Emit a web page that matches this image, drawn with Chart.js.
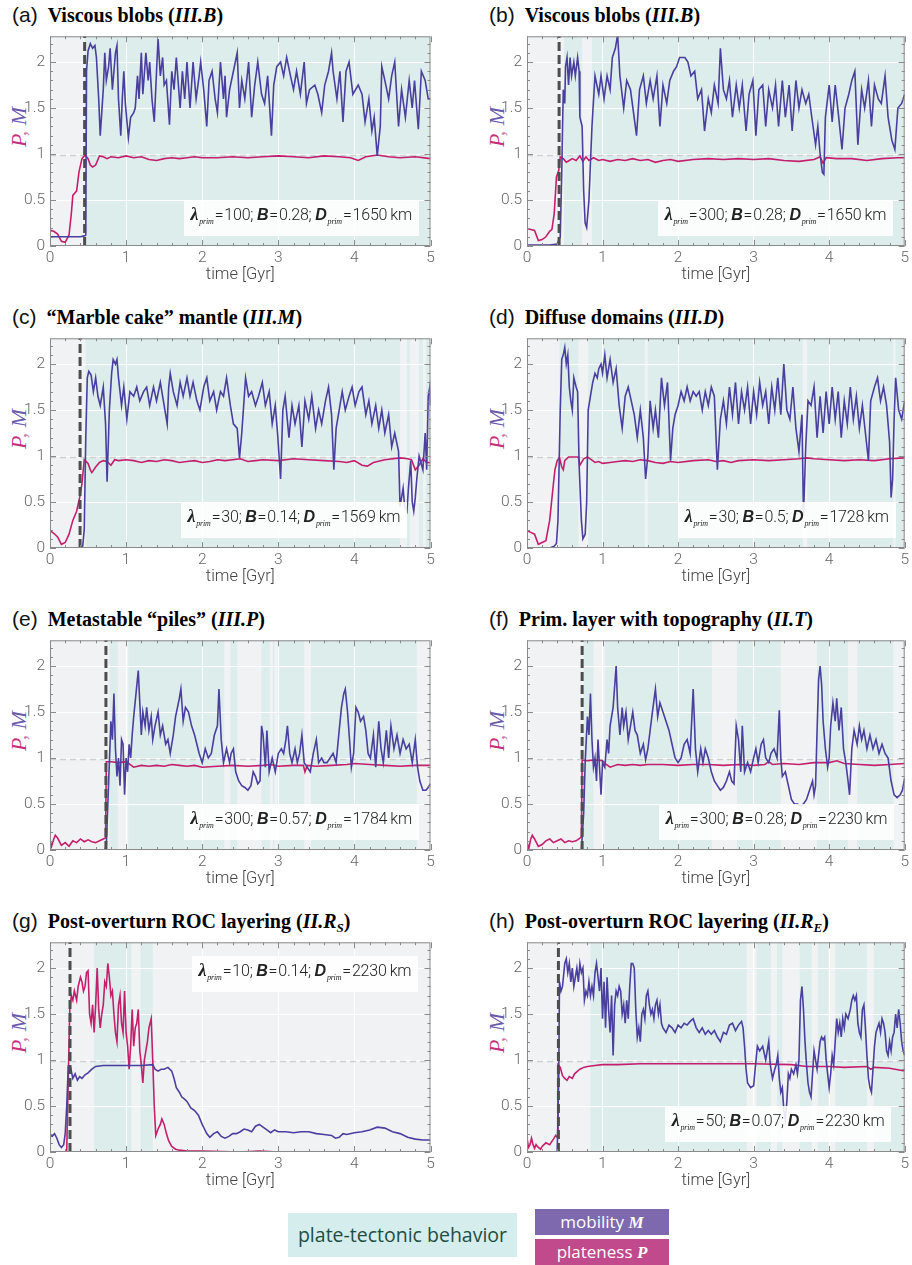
<!DOCTYPE html>
<html>
<head>
<meta charset="utf-8">
<script src="https://cdn.jsdelivr.net/npm/chart.js@4.4.1/dist/chart.umd.min.js"></script>
<style>
  body { margin:0; background:#fff; }
  #fig { position:relative; width:912px; height:1265px; overflow:hidden; }
  canvas { position:absolute; }
  .ptitle { position:absolute; white-space:nowrap; line-height:26px; }
  .ptitle .lab { font-family:"Liberation Sans", Arial, sans-serif; font-size:21px; color:#111; margin-right:10px; }
  .ptitle .tt { font-family:"Liberation Serif", "Times New Roman", serif; font-weight:bold; font-size:20px; color:#000; }
  .ptitle sub { font-size:13px; vertical-align:-4px; }
  .ylab { position:absolute; transform:translate(-50%,-50%) rotate(-90deg); white-space:nowrap;
          font-family:"Liberation Serif", serif; font-style:italic; font-size:22px; }
  .ylab .p { color:#c2307a; } .ylab .c { color:#c97aa4; } .ylab .m { color:#6a5aad; }
  .abox { position:absolute; background:rgba(255,255,255,0.88); padding:4px 7px 4px 7px; white-space:nowrap;
          font-family:Roboto, "Liberation Sans", sans-serif; font-weight:300; font-size:16px; color:#222; line-height:20px; letter-spacing:-0.2px; }
  .abox b { font-family:"Liberation Sans", sans-serif; font-style:italic; font-weight:bold; }
  .abox .lam { font-family:"Liberation Serif", serif; font-size:18px; }
  .abox .eq { margin:0 1px; }
  .abox sub { font-family:"Liberation Serif", serif; font-style:italic; font-size:8px; vertical-align:-4px; margin-left:1px; }
  .leg { position:absolute; text-align:center; font-family:"Open Sans", "Noto Sans", sans-serif; }
  .leg i { font-family:"Liberation Serif", serif; font-weight:bold; }
</style>
</head>
<body>
<div id="fig">
  <div class="leg" style="left:288px;top:1213px;width:229px;height:44px;line-height:44px;background:#d5eded;color:#1f4d42;font-size:19.5px;">plate-tectonic behavior</div>
  <div class="leg" style="left:535px;top:1209px;width:134px;height:26px;line-height:26px;background:#7e69ae;color:#fff;font-size:17px;">mobility <i>M</i></div>
  <div class="leg" style="left:535px;top:1239px;width:134px;height:26px;line-height:26px;background:#c04a8b;color:#fff;font-size:17px;">plateness <i>P</i></div>
</div>
<script>
// time axis ticks and P/M axis ticks
var timeTicks = [0, 1, 2, 3, 4, 5];
var pmTicks = [0, 0.5, 1, 1.5, 2];
var refLevel = 0.985;

// overturn time of each run (dashed line), null = none shown
var overturnTimes = [0.455, 0.425, 0.395, null, 0.735, 0.73, 0.263, 0.416];

// run parameters shown in the boxes
var lambdaPrim = [100, 300, 30, 30, 300, 300, 10, 50];
var buoyancy = ['0.28', '0.28', '0.14', '0.5', '0.57', '0.28', '0.14', '0.07'];
var dPrim = [1650, 1650, 1569, 1728, 1784, 2230, 2230, 2230];

// plate-tectonic intervals [start, end] in Gyr
var platesA = [[0.46,5]];
var platesB = [[0.49,0.73],[0.86,5]];
var platesC = [[0.47,4.6],[4.69,4.73],[4.85,4.9],[4.94,5]];
var platesD = [[0.43,0.68],[0.81,1.56],[1.6,3.65],[3.71,4.85],[4.88,5]];
var platesE = [[0.78,0.89],[1.03,2.29],[2.37,2.46],[2.78,2.89],[2.93,2.95],[2.99,3.34],[3.43,4.82]];
var platesF = [[0.75,0.88],[1.03,2.45],[2.78,3.36],[3.84,4.25],[4.37,4.85]];
var platesG = [[0.58,1.07],[1.19,1.35]];
var platesH = [[0.84,2.91],[3.04,3.23],[3.31,3.38],[3.61,3.77],[3.85,3.99],[4.08,4.5],[4.59,5]];

// mobility M, [time, value]
var mobilityA = [[0,0.1],[0.2,0.1],[0.4,0.1],[0.45,0.11],[0.47,0.12],[0.48,1.9],[0.5,2.12],[0.53,2.2],[0.56,2.15],[0.59,2.18],[0.61,2.05],[0.64,1.6],[0.66,1.2],[0.68,1.45],[0.7,1.7],[0.72,2.1],[0.74,1.8],[0.77,1.95],[0.79,2.15],[0.82,1.7],[0.84,1.9],[0.86,2.1],[0.88,2.18],[0.9,1.6],[0.93,1.2],[0.95,1.6],[0.97,1.9],[0.99,1.55],[1.03,1.18],[1.06,1.4],[1.1,1.45],[1.12,1.5],[1.15,1.85],[1.17,1.6],[1.2,2.1],[1.22,1.65],[1.26,2.1],[1.29,1.8],[1.31,2.0],[1.34,1.6],[1.37,1.35],[1.4,1.9],[1.42,2.25],[1.45,1.85],[1.48,2.05],[1.5,1.75],[1.53,1.8],[1.57,1.32],[1.6,1.9],[1.63,1.7],[1.66,2.05],[1.71,1.5],[1.74,1.9],[1.77,1.6],[1.8,2.0],[1.84,1.5],[1.88,2.0],[1.92,1.6],[1.96,1.85],[1.98,2.0],[2.02,1.7],[2.06,1.3],[2.09,1.8],[2.13,1.9],[2.17,1.6],[2.2,1.45],[2.24,2.0],[2.28,1.6],[2.3,1.85],[2.32,1.4],[2.36,1.7],[2.41,1.9],[2.46,2.1],[2.49,1.5],[2.52,1.8],[2.56,1.6],[2.61,2.0],[2.65,1.4],[2.69,1.75],[2.73,2.0],[2.78,1.65],[2.82,1.55],[2.86,1.85],[2.91,1.2],[2.94,1.75],[2.98,1.95],[3.03,2.0],[3.07,1.85],[3.11,2.05],[3.16,1.85],[3.2,1.7],[3.24,1.9],[3.29,1.65],[3.34,2.0],[3.37,1.55],[3.41,1.7],[3.48,1.75],[3.52,1.65],[3.57,1.45],[3.61,1.75],[3.66,1.9],[3.7,2.1],[3.72,1.9],[3.77,1.6],[3.81,1.9],[3.85,1.35],[3.89,1.9],[3.93,2.0],[3.98,1.65],[4.05,1.75],[4.1,1.65],[4.14,1.35],[4.19,1.6],[4.23,1.25],[4.26,1.4],[4.3,0.98],[4.34,1.3],[4.36,1.95],[4.4,1.8],[4.45,1.6],[4.49,1.85],[4.53,2.0],[4.58,1.3],[4.62,1.7],[4.67,1.4],[4.72,1.8],[4.76,1.5],[4.79,1.8],[4.84,1.27],[4.88,1.9],[4.93,1.8],[4.97,1.6],[5,1.6]];
var mobilityB = [[0,0.01],[0.3,0.01],[0.4,0.02],[0.44,0.1],[0.46,0.8],[0.48,1.7],[0.5,1.55],[0.51,1.95],[0.53,2.05],[0.55,1.75],[0.57,2.05],[0.59,1.85],[0.62,2.0],[0.64,1.85],[0.67,2.05],[0.69,1.9],[0.7,1.4],[0.73,1.3],[0.75,0.6],[0.77,0.25],[0.79,0.2],[0.82,0.5],[0.86,1.3],[0.9,1.85],[0.95,1.65],[0.98,1.85],[1.02,1.6],[1.06,1.85],[1.1,1.7],[1.13,2.05],[1.17,2.15],[1.2,2.3],[1.23,1.85],[1.28,1.5],[1.32,1.8],[1.37,1.7],[1.41,1.45],[1.45,1.2],[1.49,1.7],[1.54,1.85],[1.58,1.55],[1.63,1.8],[1.67,1.6],[1.72,1.85],[1.76,1.3],[1.8,1.75],[1.85,1.55],[1.89,1.8],[1.94,1.9],[1.98,1.95],[2.02,2.05],[2.09,2.05],[2.13,2.0],[2.17,1.85],[2.22,1.9],[2.26,1.6],[2.31,1.7],[2.35,1.25],[2.4,1.6],[2.44,1.45],[2.48,1.75],[2.53,1.55],[2.56,2.15],[2.6,1.7],[2.64,1.6],[2.68,1.8],[2.72,1.4],[2.77,1.75],[2.81,1.5],[2.85,1.75],[2.9,1.25],[2.94,1.65],[2.99,1.8],[3.03,1.2],[3.07,1.7],[3.12,1.75],[3.16,1.3],[3.2,1.7],[3.25,1.5],[3.29,1.75],[3.33,1.3],[3.38,1.8],[3.42,1.4],[3.47,1.75],[3.51,1.25],[3.56,1.8],[3.6,1.5],[3.64,1.7],[3.69,1.55],[3.73,1.65],[3.77,1.4],[3.82,1.1],[3.85,1.3],[3.88,1.0],[3.91,0.8],[3.93,0.78],[3.95,1.4],[4.0,1.75],[4.04,1.35],[4.08,1.75],[4.12,1.45],[4.17,1.05],[4.21,1.5],[4.26,1.65],[4.3,1.8],[4.34,1.9],[4.38,1.1],[4.43,1.7],[4.47,1.5],[4.52,1.8],[4.56,1.3],[4.6,1.75],[4.65,1.6],[4.69,1.55],[4.74,1.85],[4.78,1.4],[4.83,1.15],[4.87,1.05],[4.91,1.5],[4.96,1.55],[5,1.65]];
var mobilityC = [[0,0],[0.3,0],[0.4,0.0],[0.43,0.02],[0.45,0.2],[0.47,1.2],[0.49,1.85],[0.51,1.92],[0.54,1.88],[0.57,1.7],[0.6,1.85],[0.63,1.65],[0.66,1.55],[0.7,1.75],[0.73,1.35],[0.75,0.72],[0.78,1.5],[0.81,1.9],[0.83,2.05],[0.86,2.0],[0.88,2.05],[0.9,1.85],[0.94,1.55],[0.97,1.75],[1.01,1.4],[1.05,1.7],[1.1,1.65],[1.14,1.75],[1.18,1.6],[1.23,1.7],[1.27,1.75],[1.31,1.55],[1.36,1.75],[1.4,1.6],[1.45,1.8],[1.49,1.6],[1.54,1.35],[1.56,1.75],[1.58,1.9],[1.62,1.7],[1.67,1.55],[1.71,1.8],[1.75,1.65],[1.8,1.85],[1.84,1.65],[1.88,1.8],[1.93,1.6],[1.97,1.5],[2.02,1.75],[2.06,1.85],[2.1,1.6],[2.15,1.7],[2.19,1.5],[2.24,1.7],[2.28,1.65],[2.32,1.85],[2.37,1.55],[2.41,1.35],[2.46,1.3],[2.49,0.98],[2.52,1.25],[2.57,1.85],[2.61,1.65],[2.65,1.7],[2.7,1.55],[2.74,1.65],[2.79,1.8],[2.83,1.55],[2.88,1.7],[2.92,1.35],[2.96,1.55],[2.99,1.25],[3.03,0.75],[3.06,1.5],[3.09,1.65],[3.14,1.2],[3.18,1.55],[3.22,1.35],[3.27,1.55],[3.31,1.1],[3.35,1.6],[3.4,1.4],[3.44,1.65],[3.49,1.3],[3.53,1.5],[3.57,1.35],[3.62,1.6],[3.66,1.75],[3.7,1.45],[3.73,0.85],[3.76,1.3],[3.79,1.45],[3.84,1.7],[3.88,1.5],[3.93,1.65],[3.97,1.75],[4.01,1.55],[4.06,1.7],[4.1,1.75],[4.15,1.45],[4.19,1.6],[4.23,1.35],[4.28,1.55],[4.32,1.3],[4.36,1.5],[4.4,1.25],[4.45,1.45],[4.49,1.1],[4.53,1.25],[4.58,1.05],[4.6,0.45],[4.64,0.65],[4.66,0.45],[4.69,0.4],[4.71,0.65],[4.74,0.95],[4.76,0.5],[4.78,0.4],[4.8,0.55],[4.82,0.75],[4.85,1.0],[4.9,0.85],[4.93,1.25],[4.95,0.85],[4.97,1.65],[4.99,1.75],[5,1.55]];
var mobilityD = [[0,0],[0.3,0],[0.36,0.02],[0.39,0.05],[0.41,0.3],[0.44,1.5],[0.46,2.05],[0.48,2.1],[0.5,2.18],[0.52,2.0],[0.54,2.1],[0.56,1.75],[0.58,1.6],[0.6,1.5],[0.62,1.85],[0.65,1.75],[0.67,1.7],[0.69,0.9],[0.72,0.3],[0.74,0.1],[0.77,0.15],[0.79,0.5],[0.81,1.5],[0.84,1.65],[0.87,1.8],[0.9,1.9],[0.93,1.85],[0.95,1.95],[0.98,2.0],[1.0,1.9],[1.03,2.1],[1.06,1.85],[1.1,2.05],[1.14,1.8],[1.18,1.95],[1.22,1.55],[1.26,1.3],[1.3,1.65],[1.34,1.75],[1.38,1.6],[1.42,1.45],[1.46,1.2],[1.5,1.5],[1.54,1.2],[1.57,0.75],[1.6,1.0],[1.63,1.6],[1.67,1.3],[1.7,1.5],[1.74,1.2],[1.78,1.85],[1.82,1.55],[1.86,1.8],[1.9,0.95],[1.93,1.3],[1.96,1.45],[2.0,1.55],[2.04,1.7],[2.08,1.6],[2.12,1.75],[2.16,1.6],[2.2,1.7],[2.24,1.65],[2.28,1.7],[2.32,1.5],[2.36,1.7],[2.4,1.55],[2.44,1.75],[2.48,1.65],[2.52,0.85],[2.56,1.4],[2.6,1.6],[2.64,1.35],[2.68,1.75],[2.72,1.45],[2.76,1.8],[2.8,1.35],[2.84,1.7],[2.88,1.5],[2.92,1.75],[2.96,1.35],[3.0,1.7],[3.04,1.45],[3.08,1.8],[3.12,1.55],[3.16,1.7],[3.2,1.35],[3.24,1.75],[3.28,1.5],[3.32,1.85],[3.36,1.45],[3.4,2.0],[3.44,1.5],[3.48,1.4],[3.52,1.75],[3.56,1.3],[3.6,1.05],[3.64,1.45],[3.66,0.35],[3.69,1.1],[3.72,1.6],[3.76,1.55],[3.8,1.75],[3.84,1.2],[3.88,1.65],[3.92,1.25],[3.96,1.7],[4.0,1.35],[4.04,1.75],[4.08,1.4],[4.12,1.7],[4.16,1.2],[4.2,1.6],[4.24,1.35],[4.28,1.75],[4.32,1.4],[4.36,1.65],[4.4,1.3],[4.44,1.55],[4.48,1.25],[4.52,0.95],[4.55,1.6],[4.6,1.75],[4.64,1.85],[4.68,1.6],[4.72,1.75],[4.76,1.55],[4.8,1.15],[4.82,0.55],[4.84,0.75],[4.86,1.4],[4.88,1.85],[4.92,1.5],[4.96,1.4],[5,1.6]];
var mobilityE = [[0,0],[0.5,0],[0.72,0.0],[0.74,0.05],[0.76,0.5],[0.78,0.95],[0.8,1.4],[0.82,1.2],[0.84,1.7],[0.86,1.1],[0.88,0.8],[0.9,1.0],[0.92,0.7],[0.94,1.2],[0.96,1.15],[0.98,0.6],[1.0,1.0],[1.02,0.85],[1.04,1.15],[1.06,1.0],[1.08,1.25],[1.1,1.45],[1.13,1.7],[1.16,1.95],[1.18,1.6],[1.2,1.25],[1.22,1.5],[1.25,1.35],[1.27,1.55],[1.3,1.3],[1.33,1.45],[1.35,1.2],[1.38,1.35],[1.42,1.5],[1.45,1.25],[1.48,1.35],[1.52,1.15],[1.55,1.2],[1.58,1.05],[1.62,1.25],[1.65,1.45],[1.7,1.65],[1.72,1.75],[1.75,1.4],[1.78,1.55],[1.82,1.5],[1.86,1.35],[1.9,1.25],[1.93,1.15],[1.96,1.05],[2.0,0.95],[2.04,1.1],[2.08,1.0],[2.12,1.05],[2.16,1.25],[2.2,1.35],[2.22,1.75],[2.25,1.2],[2.28,0.95],[2.32,1.1],[2.36,0.95],[2.38,1.05],[2.41,1.1],[2.44,0.85],[2.48,0.75],[2.52,0.7],[2.56,0.68],[2.6,0.65],[2.64,0.7],[2.67,0.85],[2.7,0.8],[2.73,0.72],[2.76,0.75],[2.78,1.35],[2.8,1.25],[2.83,0.9],[2.85,1.3],[2.88,0.85],[2.92,1.0],[2.96,0.85],[3.0,1.05],[3.04,1.1],[3.07,1.05],[3.1,1.2],[3.12,1.35],[3.15,1.05],[3.18,0.95],[3.22,1.1],[3.25,0.95],[3.28,1.05],[3.31,1.25],[3.34,0.95],[3.38,0.9],[3.42,0.85],[3.46,1.05],[3.5,1.2],[3.53,0.95],[3.57,1.0],[3.6,0.95],[3.64,0.95],[3.68,1.0],[3.72,1.05],[3.76,0.95],[3.8,1.3],[3.83,1.55],[3.86,1.7],[3.88,1.75],[3.91,1.5],[3.94,1.15],[3.96,0.9],[3.99,1.05],[4.02,1.55],[4.05,1.5],[4.08,1.4],[4.12,1.45],[4.15,1.3],[4.18,1.05],[4.21,1.0],[4.25,1.25],[4.28,0.9],[4.32,1.4],[4.35,1.1],[4.38,0.95],[4.42,1.3],[4.45,1.0],[4.48,1.35],[4.52,1.1],[4.56,1.25],[4.6,1.05],[4.64,1.2],[4.68,1.1],[4.72,1.15],[4.76,0.95],[4.8,1.2],[4.83,0.9],[4.86,0.75],[4.9,0.65],[4.94,0.65],[4.97,0.68],[5,0.72]];
var mobilityF = [[0,0],[0.5,0],[0.72,0],[0.75,0.4],[0.77,0.95],[0.8,1.45],[0.82,1.25],[0.84,1.7],[0.86,1.2],[0.88,0.9],[0.9,1.0],[0.92,0.75],[0.94,1.2],[0.96,0.9],[0.98,0.6],[1.0,0.95],[1.03,0.9],[1.06,1.2],[1.08,1.05],[1.1,1.35],[1.14,1.55],[1.18,2.0],[1.2,1.55],[1.23,1.25],[1.26,1.55],[1.28,1.35],[1.31,1.5],[1.34,1.2],[1.37,1.35],[1.4,1.5],[1.43,1.3],[1.46,1.25],[1.5,1.05],[1.54,1.15],[1.57,0.98],[1.6,1.1],[1.63,1.3],[1.66,1.5],[1.7,1.75],[1.73,1.45],[1.76,1.6],[1.8,1.5],[1.84,1.4],[1.88,1.3],[1.92,1.15],[1.96,1.0],[2.0,0.95],[2.04,1.0],[2.08,1.15],[2.12,1.2],[2.16,1.05],[2.2,1.75],[2.23,1.1],[2.26,0.85],[2.3,1.1],[2.33,0.95],[2.36,1.1],[2.4,1.0],[2.44,0.85],[2.48,0.75],[2.52,0.7],[2.56,0.65],[2.6,0.68],[2.64,0.75],[2.68,0.85],[2.71,0.75],[2.74,0.72],[2.77,1.35],[2.8,1.2],[2.83,0.85],[2.85,1.35],[2.88,0.85],[2.92,0.95],[2.96,0.85],[3.0,1.0],[3.03,1.1],[3.06,0.95],[3.1,1.15],[3.13,1.2],[3.16,1.0],[3.2,0.95],[3.23,1.05],[3.27,1.1],[3.31,1.0],[3.34,1.52],[3.36,1.0],[3.38,0.8],[3.42,0.85],[3.46,0.7],[3.5,0.55],[3.54,0.5],[3.58,0.5],[3.62,0.48],[3.66,0.5],[3.7,0.55],[3.74,0.65],[3.78,0.75],[3.8,0.6],[3.82,0.7],[3.84,1.3],[3.86,1.85],[3.88,2.0],[3.9,1.8],[3.92,1.4],[3.95,1.1],[3.98,0.9],[4.0,1.0],[4.02,1.35],[4.05,1.6],[4.08,1.4],[4.1,1.65],[4.13,1.3],[4.16,1.55],[4.19,1.1],[4.22,0.95],[4.25,0.75],[4.27,0.6],[4.3,1.1],[4.33,1.3],[4.37,1.15],[4.4,1.35],[4.43,1.2],[4.46,1.3],[4.5,1.1],[4.54,1.25],[4.58,1.1],[4.62,1.2],[4.66,1.05],[4.7,1.15],[4.74,1.05],[4.78,1.0],[4.82,0.75],[4.86,0.6],[4.9,0.57],[4.94,0.6],[4.97,0.65],[5,0.78]];
var mobilityG = [[0,0.18],[0.03,0.17],[0.06,0.2],[0.09,0.15],[0.12,0.08],[0.15,0.05],[0.18,0.08],[0.2,0.2],[0.22,0.5],[0.24,0.93],[0.27,0.92],[0.3,0.8],[0.33,0.85],[0.36,0.78],[0.39,0.82],[0.42,0.8],[0.46,0.84],[0.5,0.86],[0.55,0.9],[0.6,0.93],[0.7,0.94],[0.8,0.94],[1.0,0.94],[1.2,0.94],[1.35,0.95],[1.38,0.9],[1.42,0.88],[1.46,0.9],[1.5,0.9],[1.55,0.92],[1.6,0.88],[1.63,0.8],[1.66,0.7],[1.7,0.65],[1.73,0.6],[1.76,0.58],[1.8,0.55],[1.85,0.48],[1.9,0.45],[1.95,0.4],[2.0,0.3],[2.03,0.25],[2.06,0.2],[2.1,0.16],[2.15,0.2],[2.2,0.22],[2.25,0.17],[2.3,0.15],[2.35,0.17],[2.4,0.2],[2.45,0.2],[2.5,0.22],[2.55,0.25],[2.6,0.24],[2.65,0.22],[2.7,0.28],[2.75,0.3],[2.8,0.27],[2.85,0.24],[2.9,0.21],[2.95,0.24],[3.0,0.22],[3.1,0.22],[3.2,0.21],[3.3,0.22],[3.4,0.22],[3.5,0.2],[3.6,0.19],[3.7,0.18],[3.75,0.15],[3.8,0.16],[3.85,0.2],[3.9,0.19],[4.0,0.21],[4.1,0.22],[4.2,0.24],[4.3,0.27],[4.4,0.26],[4.5,0.22],[4.6,0.2],[4.7,0.16],[4.8,0.14],[4.9,0.13],[5,0.13]];
var mobilityH = [[0,0],[0.4,0],[0.42,0.8],[0.43,1.85],[0.45,1.75],[0.47,1.8],[0.5,2.05],[0.52,2.1],[0.54,1.95],[0.56,2.05],[0.58,1.85],[0.6,2.0],[0.62,1.8],[0.64,1.9],[0.66,2.0],[0.68,1.85],[0.7,2.05],[0.72,1.95],[0.74,2.0],[0.76,1.65],[0.78,1.75],[0.8,1.7],[0.82,1.85],[0.84,1.7],[0.86,1.8],[0.88,1.7],[0.9,1.95],[0.92,2.05],[0.94,1.9],[0.96,1.75],[0.98,2.0],[1.0,1.45],[1.02,1.85],[1.04,1.35],[1.06,1.9],[1.08,1.55],[1.1,1.3],[1.12,1.7],[1.14,1.05],[1.16,1.6],[1.18,1.75],[1.2,1.7],[1.22,1.8],[1.24,1.75],[1.26,1.5],[1.28,1.6],[1.3,1.4],[1.32,1.65],[1.34,1.45],[1.36,1.8],[1.38,2.05],[1.4,2.05],[1.42,2.0],[1.44,1.55],[1.46,1.25],[1.48,1.35],[1.5,1.2],[1.52,1.5],[1.54,1.55],[1.56,1.45],[1.58,1.7],[1.6,1.75],[1.62,1.6],[1.64,1.5],[1.66,1.55],[1.68,1.45],[1.7,1.6],[1.72,1.65],[1.74,1.5],[1.76,1.6],[1.78,1.4],[1.8,1.35],[1.84,1.3],[1.88,1.38],[1.92,1.35],[1.96,1.3],[2.0,1.38],[2.04,1.35],[2.08,1.4],[2.12,1.38],[2.16,1.42],[2.2,1.45],[2.24,1.35],[2.28,1.3],[2.32,1.35],[2.36,1.28],[2.4,1.32],[2.44,1.28],[2.48,1.32],[2.52,1.25],[2.56,1.2],[2.6,1.3],[2.64,1.28],[2.68,1.38],[2.72,1.4],[2.76,1.32],[2.8,1.38],[2.84,1.42],[2.86,1.35],[2.88,1.15],[2.9,0.9],[2.92,0.75],[2.96,0.7],[3.0,0.72],[3.02,0.9],[3.05,1.15],[3.08,1.1],[3.12,1.15],[3.16,1.0],[3.2,1.2],[3.22,0.95],[3.25,0.8],[3.28,0.9],[3.3,0.95],[3.32,1.05],[3.34,0.8],[3.36,0.65],[3.38,0.7],[3.4,0.45],[3.42,0.35],[3.44,0.55],[3.46,0.85],[3.48,0.8],[3.5,0.9],[3.53,0.85],[3.56,0.95],[3.58,0.85],[3.6,1.0],[3.62,1.65],[3.64,1.8],[3.66,1.55],[3.68,1.2],[3.7,0.95],[3.72,0.75],[3.74,0.65],[3.76,0.6],[3.78,0.85],[3.8,1.1],[3.82,1.0],[3.84,0.9],[3.86,1.05],[3.88,1.2],[3.9,1.25],[3.92,1.22],[3.94,1.25],[3.96,1.0],[3.98,0.85],[4.0,0.7],[4.02,0.85],[4.04,1.05],[4.06,0.95],[4.08,1.2],[4.1,1.45],[4.12,1.3],[4.14,1.4],[4.16,1.25],[4.18,1.45],[4.2,1.35],[4.22,1.5],[4.25,1.45],[4.28,1.55],[4.3,1.65],[4.32,1.7],[4.34,1.65],[4.36,1.7],[4.38,1.4],[4.4,1.3],[4.42,1.25],[4.44,1.55],[4.46,1.6],[4.48,1.35],[4.5,1.05],[4.52,0.8],[4.54,0.7],[4.56,0.65],[4.58,0.9],[4.6,1.15],[4.62,1.3],[4.64,1.35],[4.66,1.4],[4.68,1.3],[4.7,1.45],[4.72,1.4],[4.74,1.3],[4.76,1.1],[4.78,1.05],[4.8,1.2],[4.82,1.1],[4.84,1.25],[4.86,1.3],[4.88,1.5],[4.9,1.35],[4.92,1.55],[4.94,1.4],[4.96,1.2],[4.98,1.1],[5,1.05]];

// plateness P, [time, value]
var platenessA = [[0,0.17],[0.05,0.16],[0.1,0.13],[0.15,0.05],[0.2,0.04],[0.25,0.12],[0.28,0.35],[0.3,0.55],[0.33,0.58],[0.35,0.6],[0.38,0.8],[0.42,0.95],[0.46,0.99],[0.5,0.95],[0.53,0.88],[0.56,0.86],[0.6,0.88],[0.65,0.98],[0.7,0.97],[0.75,0.95],[0.8,0.97],[0.9,0.96],[1.0,0.98],[1.1,0.96],[1.2,0.97],[1.3,0.94],[1.4,0.93],[1.5,0.95],[1.6,0.96],[1.7,0.95],[1.8,0.96],[1.9,0.97],[2.0,0.96],[2.2,0.96],[2.4,0.97],[2.6,0.96],[2.8,0.97],[3.0,0.98],[3.2,0.97],[3.4,0.96],[3.6,0.98],[3.8,0.97],[3.95,0.96],[4.05,0.93],[4.15,0.97],[4.3,0.99],[4.45,0.97],[4.6,0.96],[4.8,0.97],[5,0.95]];
var platenessB = [[0,0.19],[0.05,0.18],[0.1,0.17],[0.15,0.06],[0.2,0.07],[0.25,0.1],[0.3,0.16],[0.33,0.18],[0.36,0.35],[0.39,0.75],[0.42,0.82],[0.44,0.97],[0.48,0.95],[0.52,0.91],[0.56,0.93],[0.6,0.95],[0.65,0.93],[0.7,0.98],[0.74,0.92],[0.78,0.97],[0.82,0.93],[0.88,0.96],[0.95,0.93],[1.0,0.94],[1.1,0.92],[1.2,0.94],[1.3,0.93],[1.4,0.95],[1.5,0.93],[1.6,0.94],[1.7,0.91],[1.8,0.93],[1.9,0.94],[2.0,0.92],[2.2,0.94],[2.4,0.95],[2.6,0.94],[2.8,0.95],[3.0,0.94],[3.2,0.95],[3.4,0.93],[3.6,0.92],[3.8,0.94],[3.88,0.97],[3.92,0.9],[3.96,0.96],[4.1,0.95],[4.3,0.95],[4.5,0.93],[4.7,0.95],[4.9,0.96],[5,0.96]];
var platenessC = [[0,0.19],[0.05,0.16],[0.1,0.12],[0.15,0.04],[0.2,0.06],[0.25,0.15],[0.3,0.3],[0.35,0.4],[0.39,0.55],[0.42,0.7],[0.45,0.96],[0.5,0.92],[0.53,0.85],[0.55,0.82],[0.6,0.88],[0.65,0.93],[0.7,0.95],[0.75,0.94],[0.8,0.9],[0.85,0.96],[0.9,0.95],[1.0,0.96],[1.1,0.95],[1.2,0.93],[1.3,0.95],[1.4,0.94],[1.5,0.96],[1.6,0.95],[1.7,0.93],[1.8,0.94],[1.9,0.95],[2.0,0.93],[2.1,0.94],[2.2,0.96],[2.3,0.95],[2.4,0.96],[2.5,0.97],[2.6,0.94],[2.7,0.95],[2.8,0.96],[3.0,0.95],[3.2,0.97],[3.4,0.96],[3.6,0.95],[3.8,0.94],[3.9,0.93],[4.0,0.95],[4.1,0.9],[4.17,0.89],[4.25,0.93],[4.4,0.96],[4.6,0.98],[4.7,0.97],[4.75,0.96],[4.8,0.85],[4.85,0.9],[4.9,0.97],[4.95,0.93],[5,0.93]];
var platenessD = [[0,0.19],[0.05,0.17],[0.1,0.15],[0.15,0.04],[0.2,0.06],[0.25,0.08],[0.3,0.3],[0.35,0.7],[0.37,0.85],[0.4,0.95],[0.43,0.98],[0.46,0.88],[0.48,0.85],[0.5,0.95],[0.55,0.99],[0.6,0.99],[0.68,0.99],[0.7,0.9],[0.75,0.97],[0.8,0.99],[0.85,0.96],[0.9,0.93],[0.95,0.94],[1.0,0.92],[1.1,0.93],[1.2,0.94],[1.3,0.95],[1.4,0.94],[1.5,0.96],[1.6,0.95],[1.7,0.93],[1.8,0.92],[1.9,0.94],[2.0,0.93],[2.2,0.95],[2.4,0.96],[2.5,0.94],[2.6,0.95],[2.7,0.93],[2.8,0.95],[3.0,0.96],[3.2,0.95],[3.4,0.96],[3.6,0.97],[3.7,0.98],[3.8,0.97],[4.0,0.96],[4.2,0.95],[4.4,0.96],[4.6,0.95],[4.8,0.97],[5,0.98]];
var platenessE = [[0,0.1],[0.02,0.04],[0.05,0.12],[0.07,0.16],[0.1,0.13],[0.15,0.05],[0.2,0.08],[0.25,0.04],[0.3,0.1],[0.35,0.08],[0.4,0.12],[0.45,0.09],[0.5,0.11],[0.55,0.09],[0.6,0.08],[0.65,0.1],[0.7,0.12],[0.73,0.13],[0.74,0.96],[0.8,0.96],[0.9,0.95],[1.0,0.96],[1.05,0.93],[1.1,0.9],[1.2,0.92],[1.3,0.91],[1.4,0.92],[1.5,0.91],[1.6,0.93],[1.7,0.92],[1.8,0.91],[1.9,0.92],[2.0,0.9],[2.2,0.91],[2.4,0.92],[2.6,0.91],[2.8,0.92],[2.9,0.93],[3.0,0.91],[3.2,0.92],[3.33,0.92],[3.35,0.85],[3.38,0.92],[3.5,0.91],[3.7,0.92],[3.9,0.93],[4.0,0.94],[4.2,0.93],[4.4,0.92],[4.6,0.91],[4.8,0.92],[5,0.92]];
var platenessF = [[0,0.1],[0.02,0.0],[0.05,0.12],[0.07,0.16],[0.1,0.12],[0.15,0.04],[0.2,0.06],[0.25,0.1],[0.3,0.12],[0.35,0.08],[0.4,0.1],[0.45,0.12],[0.5,0.08],[0.55,0.1],[0.6,0.09],[0.65,0.1],[0.7,0.13],[0.72,0.14],[0.73,0.98],[0.8,0.97],[0.9,0.98],[1.0,0.97],[1.05,0.93],[1.1,0.9],[1.2,0.93],[1.3,0.92],[1.4,0.93],[1.5,0.92],[1.6,0.93],[1.8,0.93],[2.0,0.92],[2.2,0.93],[2.4,0.93],[2.6,0.92],[2.8,0.93],[3.0,0.92],[3.15,0.93],[3.2,0.96],[3.25,0.93],[3.4,0.94],[3.6,0.93],[3.8,0.95],[4.0,0.95],[4.1,0.97],[4.2,0.94],[4.4,0.93],[4.6,0.92],[4.8,0.93],[5,0.94]];
var platenessG = [[0,0.0],[0.2,0.0],[0.22,0.02],[0.24,0.8],[0.26,1.55],[0.28,1.7],[0.3,1.65],[0.32,1.75],[0.35,1.65],[0.37,1.8],[0.4,1.9],[0.42,1.85],[0.44,1.75],[0.46,1.8],[0.48,1.95],[0.5,1.97],[0.52,1.5],[0.54,1.4],[0.56,1.6],[0.58,1.3],[0.6,1.6],[0.62,2.0],[0.64,1.55],[0.66,1.35],[0.68,1.5],[0.7,1.6],[0.72,1.85],[0.74,1.8],[0.76,2.05],[0.78,1.9],[0.8,1.7],[0.82,1.75],[0.84,1.5],[0.86,1.3],[0.88,1.2],[0.9,1.6],[0.92,1.7],[0.94,1.4],[0.96,1.3],[0.98,1.75],[1.0,1.3],[1.02,1.15],[1.04,0.9],[1.06,1.15],[1.08,1.55],[1.1,1.15],[1.12,1.35],[1.14,1.4],[1.16,1.55],[1.18,1.1],[1.2,0.95],[1.22,0.75],[1.24,1.0],[1.26,1.1],[1.28,1.2],[1.3,1.35],[1.33,1.45],[1.35,1.0],[1.37,0.5],[1.39,0.18],[1.42,0.25],[1.45,0.3],[1.47,0.36],[1.5,0.3],[1.53,0.2],[1.56,0.12],[1.6,0.06],[1.65,0.03],[1.7,0.02],[1.8,0.01],[2.0,0.01],[2.5,0.0],[2.75,0.01],[3.0,0.0],[5,0.0]];
var platenessH = [[0,0.15],[0.02,0.05],[0.04,0.08],[0.06,0.15],[0.08,0.08],[0.1,0.04],[0.12,0.08],[0.15,0.05],[0.18,0.03],[0.2,0.06],[0.25,0.1],[0.3,0.08],[0.35,0.14],[0.38,0.18],[0.4,0.16],[0.41,0.95],[0.44,0.92],[0.47,0.83],[0.5,0.8],[0.53,0.78],[0.56,0.82],[0.6,0.8],[0.63,0.85],[0.67,0.88],[0.7,0.9],[0.75,0.92],[0.8,0.93],[0.9,0.94],[1.0,0.95],[1.2,0.95],[1.5,0.96],[2.0,0.96],[2.5,0.96],[3.0,0.96],[3.5,0.95],[3.7,0.93],[4.0,0.93],[4.2,0.92],[4.5,0.93],[4.55,0.9],[4.6,0.92],[4.8,0.91],[5,0.88]];

var panelDefs = [
  { tag: 'a', title: 'Viscous blobs (<i>III.B</i>)', m: mobilityA, p: platenessA, bands: platesA },
  { tag: 'b', title: 'Viscous blobs (<i>III.B</i>)', m: mobilityB, p: platenessB, bands: platesB },
  { tag: 'c', title: '\u201cMarble cake\u201d mantle (<i>III.M</i>)', m: mobilityC, p: platenessC, bands: platesC },
  { tag: 'd', title: 'Diffuse domains (<i>III.D</i>)', m: mobilityD, p: platenessD, bands: platesD },
  { tag: 'e', title: 'Metastable \u201cpiles\u201d (<i>III.P</i>)', m: mobilityE, p: platenessE, bands: platesE },
  { tag: 'f', title: 'Prim. layer with topography (<i>II.T</i>)', m: mobilityF, p: platenessF, bands: platesF },
  { tag: 'g', title: 'Post-overturn ROC layering (<i>II.R<sub>S</sub></i>)', m: mobilityG, p: platenessG, bands: platesG },
  { tag: 'h', title: 'Post-overturn ROC layering (<i>II.R<sub>E</sub></i>)', m: mobilityH, p: platenessH, bands: platesH }
];

var boxRight = [12, 12, 23, 9, 12, 11, 12, 13];
var M_COLOR = '#4a3f9e';
var P_COLOR = '#c41f6c';
var fig = document.getElementById('fig');

// background, plate-tectonic bands, y=1 reference, overturn line and frame
var panelDecor = {
  id: 'panelDecor',
  beforeDraw: function(chart) {
    var ctx = chart.ctx, a = chart.chartArea, xs = chart.scales.x;
    ctx.save();
    ctx.fillStyle = '#f0f2f4';
    ctx.fillRect(a.left, a.top, a.right - a.left, a.bottom - a.top);
    ctx.fillStyle = '#dcedec';
    chart.options.plugins.panelDecor.bands.forEach(function(b) {
      var x1 = xs.getPixelForValue(b[0]), x2 = xs.getPixelForValue(b[1]);
      ctx.fillRect(x1, a.top, x2 - x1, a.bottom - a.top);
    });
    ctx.restore();
  },
  beforeDatasetsDraw: function(chart) {
    var ctx = chart.ctx, a = chart.chartArea;
    var y = chart.scales.y.getPixelForValue(refLevel);
    ctx.save();
    ctx.strokeStyle = '#cdcfd1';
    ctx.lineWidth = 1.5;
    ctx.setLineDash([6, 4]);
    ctx.beginPath(); ctx.moveTo(a.left, y); ctx.lineTo(a.right, y); ctx.stroke();
    ctx.restore();
  },
  afterDatasetsDraw: function(chart) {
    var ctx = chart.ctx, a = chart.chartArea, xs = chart.scales.x, ys = chart.scales.y;
    var o = chart.options.plugins.panelDecor.overturn;
    ctx.save();
    if (o !== null) {
      var x = xs.getPixelForValue(o);
      ctx.strokeStyle = '#4d4d4d';
      ctx.lineWidth = 3;
      ctx.setLineDash([9, 4]);
      ctx.beginPath(); ctx.moveTo(x, a.bottom); ctx.lineTo(x, a.top); ctx.stroke();
      ctx.setLineDash([]);
    }
    // frame
    ctx.strokeStyle = '#8a8a8a';
    ctx.lineWidth = 1;
    ctx.strokeRect(a.left + 0.5, a.top + 0.5, a.right - a.left - 1, a.bottom - a.top - 1);
    // inward ticks
    ctx.beginPath();
    var t, px, len;
    for (t = 0; t <= 50; t += 2) {
      px = Math.round(xs.getPixelForValue(t / 10)) + 0.5;
      len = (t % 10 === 0) ? 6 : 3;
      ctx.moveTo(px, a.bottom); ctx.lineTo(px, a.bottom - len);
      ctx.moveTo(px, a.top); ctx.lineTo(px, a.top + len);
    }
    for (t = 0; t <= 22; t += 1) {
      px = Math.round(ys.getPixelForValue(t / 10)) + 0.5;
      len = (t % 5 === 0) ? 6 : 3;
      ctx.moveTo(a.left, px); ctx.lineTo(a.left + len, px);
      ctx.moveTo(a.right, px); ctx.lineTo(a.right - len, px);
    }
    ctx.stroke();
    ctx.restore();
  }
};

function toPts(arr) {
  return arr.map(function(d) { return { x: d[0], y: d[1] }; });
}

panelDefs.forEach(function(pd, i) {
  var col = i % 2, row = Math.floor(i / 2);
  var x0 = col * 456, y0 = row * 302;
  var plotLeft = col ? 71 : 50;

  var title = document.createElement('div');
  title.className = 'ptitle';
  title.style.left = (x0 + (col ? 33 : 12)) + 'px';
  title.style.top = (y0 + 2) + 'px';
  title.innerHTML = '<span class="lab">(' + pd.tag + ')</span><span class="tt">' + pd.title + '</span>';
  fig.appendChild(title);

  var ylab = document.createElement('div');
  ylab.className = 'ylab';
  ylab.style.left = (x0 + (col ? 41 : 19)) + 'px';
  ylab.style.top = (y0 + 127) + 'px';
  ylab.innerHTML = '<span class="p">P</span><span class="c">, </span><span class="m">M</span>';
  fig.appendChild(ylab);

  var canvas = document.createElement('canvas');
  canvas.width = 456; canvas.height = 280;
  canvas.style.left = x0 + 'px';
  canvas.style.top = (y0 + 22) + 'px';
  fig.appendChild(canvas);

  var chart = new Chart(canvas, {
    type: 'line',
    data: {
      datasets: [
        { label: 'mobility M', data: toPts(pd.m), borderColor: M_COLOR, borderWidth: 1.6, pointRadius: 0, tension: 0 },
        { label: 'plateness P', data: toPts(pd.p), borderColor: P_COLOR, borderWidth: 1.6, pointRadius: 0, tension: 0 }
      ]
    },
    options: {
      responsive: false,
      animation: false,
      layout: { padding: { top: 7, right: col ? 4 : 25.5, left: 0, bottom: 0 } },
      plugins: {
        legend: { display: false },
        tooltip: { enabled: false },
        panelDecor: { bands: pd.bands, overturn: overturnTimes[i] }
      },
      scales: {
        x: {
          type: 'linear', min: 0, max: 5,
          afterFit: function(s) { s.height = 56; },
          afterBuildTicks: function(s) { s.ticks = timeTicks.map(function(v) { return { value: v }; }); },
          ticks: { padding: 3, maxRotation: 0, color: '#666', font: { family: 'Roboto', weight: '300', size: 15.5 },
                   callback: function(v) { return String(v); } },
          grid: { color: '#ffffff', lineWidth: 1, drawTicks: false },
          border: { display: false },
          title: { display: true, text: 'time [Gyr]', color: '#444', padding: { top: 0, bottom: 17 },
                   font: { family: 'Roboto', weight: '300', size: 16.5 } }
        },
        y: {
          type: 'linear', min: 0, max: 2.28,
          afterFit: function(s) { s.width = plotLeft; },
          afterBuildTicks: function(s) { s.ticks = pmTicks.map(function(v) { return { value: v }; }); },
          ticks: { padding: 5, color: '#666', font: { family: 'Roboto', weight: '300', size: 15.5 },
                   callback: function(v) { return String(v); } },
          grid: { color: '#ffffff', lineWidth: 1, drawTicks: false },
          border: { display: false }
        }
      }
    },
    plugins: [panelDecor]
  });

  // parameter box
  var box = document.createElement('div');
  box.className = 'abox';
  box.innerHTML = '<b class="lam">\u03bb</b><sub>prim</sub><span class="eq">=</span>' + lambdaPrim[i] +
    '; <b>B</b><span class="eq">=</span>' + buoyancy[i] +
    '; <b>D</b><sub>prim</sub><span class="eq">=</span>' + dPrim[i] + '&thinsp;km';
  fig.appendChild(box);
  var ca = chart.chartArea;
  box.style.left = (x0 + ca.right - boxRight[i] - box.offsetWidth) + 'px';
  if (i === 6) {
    box.style.top = (y0 + 22 + ca.top + 14) + 'px';
  } else {
    box.style.top = (y0 + 22 + ca.bottom - 10 - box.offsetHeight) + 'px';
  }
});
</script>
</body>
</html>
